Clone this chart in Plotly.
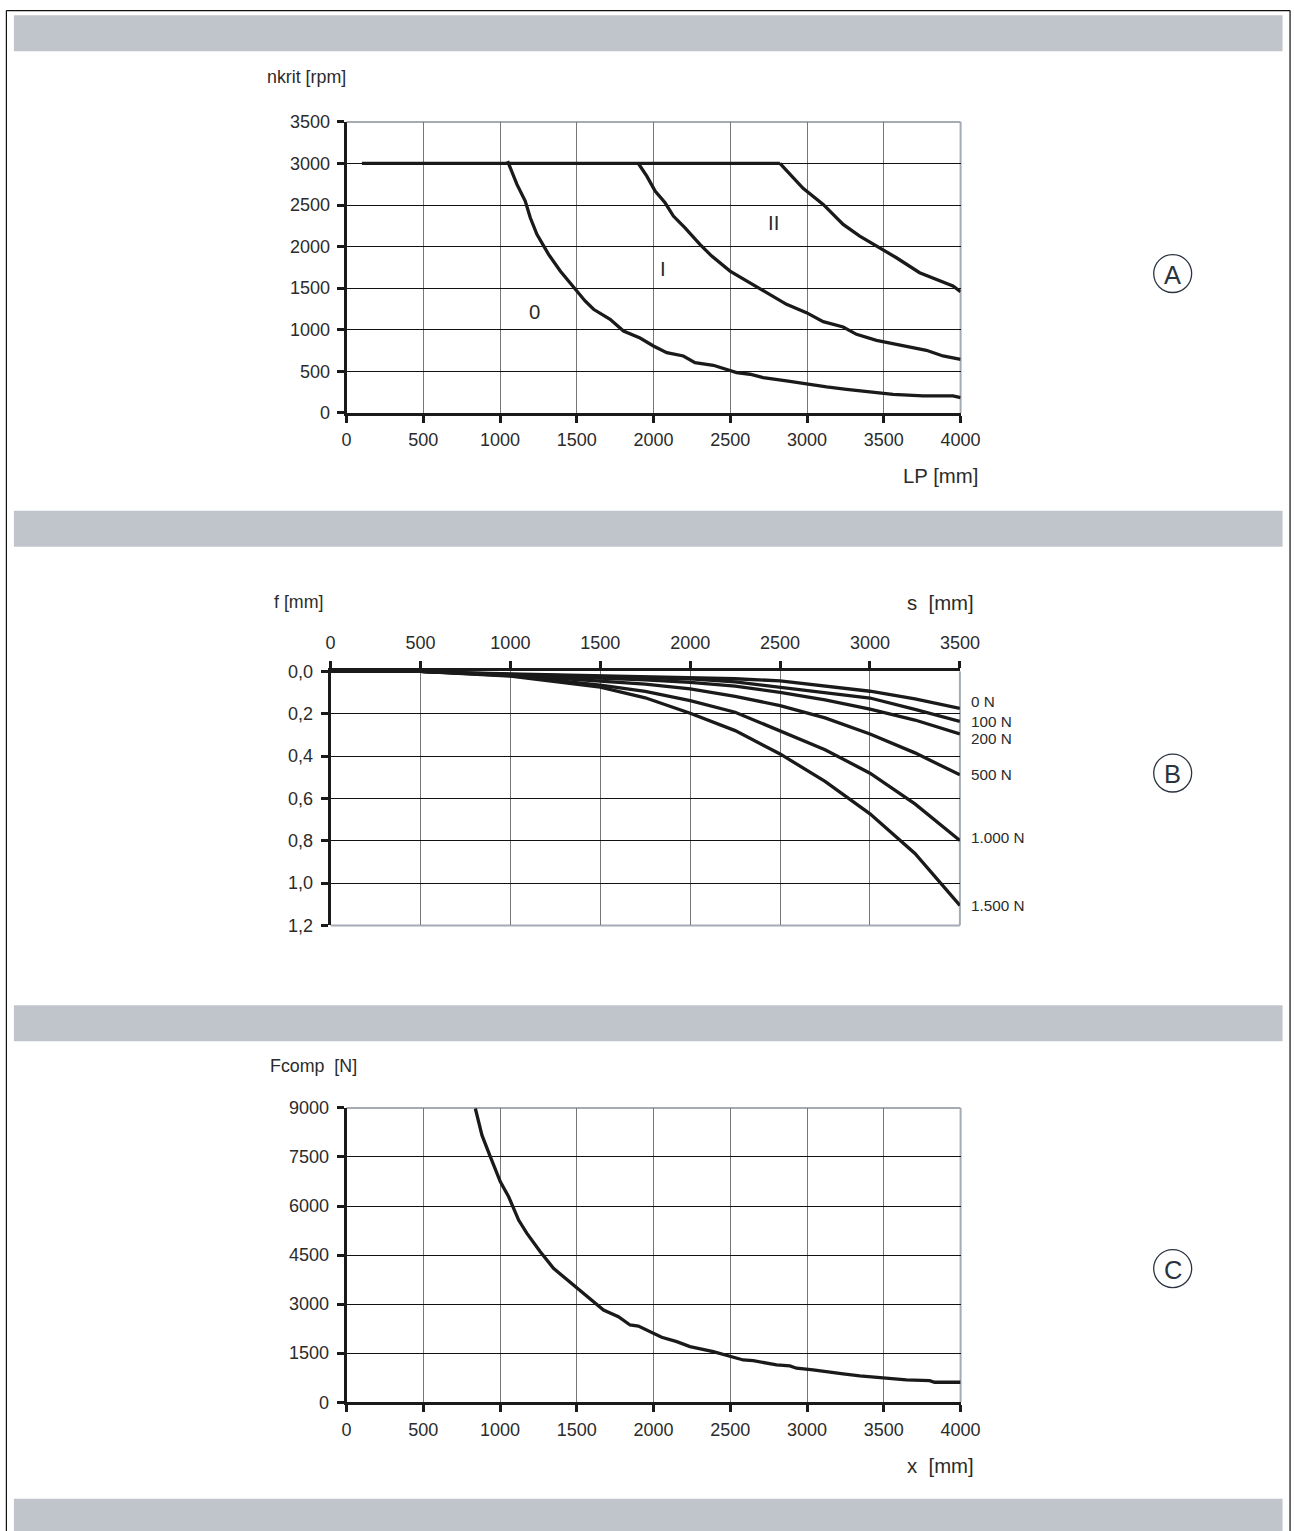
import plotly.graph_objects as go

FONT = "Liberation Sans, Arial, sans-serif"
INK = "#1a1a1a"
TXT = "#2b2b2b"
GRAY_BAND = "#c0c4cb"
BORDER_GRAY = "#a4abb3"

# page-to-picture mapping observed for this renderer: picture = S * figure_px + O
SX, OX = 0.982, 4.1
SY, OY = 0.988, 8.7
FW, FH = 1314, 1541

# ---------------- Chart A: critical speed ----------------
a_flat_x = [100, 2823]
a_flat_y = [3000, 3000]
a0_x = [1049, 1077, 1110, 1164, 1197, 1240, 1316, 1392, 1479, 1554, 1609, 1717, 1804, 1912,
        1999, 2086, 2194, 2270, 2389, 2541, 2628, 2714, 2866, 2996, 3127, 3257, 3430, 3560,
        3755, 3950, 4000]
a0_y = [3028, 2908, 2748, 2547, 2347, 2147, 1907, 1706, 1506, 1346, 1246, 1126, 985, 900,
        805, 725, 685, 604, 573, 484, 465, 424, 384, 344, 312, 284, 252, 224, 204, 204, 184]
a1_x = [1901, 1956, 2010, 2075, 2129, 2205, 2302, 2379, 2498, 2606, 2714, 2866, 2996, 3105,
        3235, 3322, 3452, 3560, 3668, 3777, 3885, 4000]
a1_y = [3000, 2848, 2667, 2527, 2367, 2226, 2027, 1886, 1706, 1586, 1466, 1306, 1206, 1097,
        1033, 945, 873, 833, 785, 753, 685, 645]
a2_x = [2823, 2909, 2974, 3105, 3235, 3343, 3473, 3582, 3733, 3863, 3950, 4000]
a2_y = [3000, 2827, 2700, 2507, 2267, 2127, 1986, 1866, 1686, 1586, 1526, 1457]
a_labels = ["0", "I", "II"]
a_label_x = [1223, 2062, 2784]
a_label_y = [1213, 1730, 2283]

# ---------------- Chart B: deflection ----------------
b_x = [0, 500, 1000, 1500, 1750, 2000, 2250, 2500, 2750, 3000, 3250, 3500]
b_series = {
    "0 N":     [0, 0, 0.012, 0.020, 0.024, 0.028, 0.035, 0.045, 0.068, 0.094, 0.130, 0.175],
    "100 N":   [0, 0, 0.014, 0.025, 0.030, 0.035, 0.050, 0.075, 0.100, 0.126, 0.180, 0.237],
    "200 N":   [0, 0, 0.016, 0.030, 0.040, 0.052, 0.070, 0.099, 0.135, 0.178, 0.230, 0.296],
    "500 N":   [0, 0, 0.018, 0.045, 0.060, 0.083, 0.118, 0.162, 0.220, 0.296, 0.385, 0.489],
    "1.000 N": [0, 0, 0.020, 0.065, 0.095, 0.138, 0.193, 0.280, 0.370, 0.481, 0.626, 0.799],
    "1.500 N": [0, 0, 0.022, 0.075, 0.125, 0.198, 0.280, 0.390, 0.520, 0.673, 0.860, 1.106],
}
b_label_y = [0.141, 0.236, 0.316, 0.489, 0.783, 1.106]
b_yticks = [0, 0.2, 0.4, 0.6, 0.8, 1.0, 1.2]
b_yticktext = ["0,0", "0,2", "0,4", "0,6", "0,8", "1,0", "1,2"]

# ---------------- Chart C: compression force ----------------
c_x = [839, 882, 937, 1002, 1056, 1121, 1175, 1262, 1348, 1478, 1576, 1674, 1771, 1847, 1901,
       2053, 2151, 2237, 2389, 2498, 2584, 2649, 2801, 2888, 2931, 3039, 3127, 3235, 3343,
       3495, 3647, 3798, 3831, 4000]
c_y = [8982, 8167, 7504, 6740, 6282, 5570, 5164, 4601, 4094, 3584, 3177, 2820, 2615, 2362, 2331,
       1986, 1852, 1699, 1546, 1415, 1292, 1271, 1140, 1109, 1039, 987, 926, 865, 804,
       733, 681, 660, 611, 611]


def fx(x):
    return max((x - OX) / SX, 0.6)


def fy(y):
    return max((y - OY) / SY, 0.6)


def px(x):
    return fx(x) / FW


def py(y):
    return 1 - fy(y) / FH


def sz(v):
    return v / SX


fig = go.Figure()
line = dict(color=INK, width=3.3)

for xs, ys in [(a_flat_x, a_flat_y), (a0_x, a0_y), (a1_x, a1_y), (a2_x, a2_y)]:
    fig.add_trace(go.Scatter(x=xs, y=ys, mode="lines", line=line, xaxis="x", yaxis="y",
                             showlegend=False, hoverinfo="skip"))
for name, ys in b_series.items():
    fig.add_trace(go.Scatter(x=b_x, y=ys, mode="lines", line=line, xaxis="x2", yaxis="y2",
                             name=name, showlegend=False, hoverinfo="skip"))
fig.add_trace(go.Scatter(x=c_x, y=c_y, mode="lines", line=line, xaxis="x3", yaxis="y3",
                         showlegend=False, hoverinfo="skip"))

tickfont = dict(family=FONT, size=18, color=TXT)
common_x = dict(showline=True, linecolor=INK, linewidth=3, ticks="outside", ticklen=7,
                tickwidth=3, tickcolor=INK, showgrid=True, gridcolor="#777777", gridwidth=1,
                zeroline=False, tickfont=tickfont, fixedrange=True)
common_y = dict(showline=True, linecolor=INK, linewidth=3, ticks="outside", ticklen=7,
                tickwidth=3, tickcolor=INK, showgrid=True, gridcolor="#111111", gridwidth=1,
                zeroline=False, tickfont=tickfont, fixedrange=True)

fig.update_layout(
    width=FW, height=FH, margin=dict(l=0, r=0, t=0, b=0),
    paper_bgcolor="white", plot_bgcolor="white",
    xaxis=dict(common_x, domain=[px(346), px(960.7)], range=[0, 4000], tickvals=list(range(0, 4001, 500)),
               anchor="y", ticklabelstandoff=1),
    yaxis=dict(common_y, domain=[py(412), py(120.7)], range=[0, 3500], tickvals=list(range(0, 3501, 500)),
               anchor="x", ticklabelstandoff=3),
    xaxis2=dict(common_x, domain=[px(330), px(960)], range=[0, 3500], tickvals=list(range(0, 3501, 500)),
                anchor="y2", side="top", ticklabelstandoff=5),
    yaxis2=dict(common_y, domain=[py(925), py(670.7)], range=[1.2, 0], tickvals=b_yticks,
                ticktext=b_yticktext, anchor="x2", ticklabelstandoff=4),
    xaxis3=dict(common_x, domain=[px(346), px(960.7)], range=[0, 4000], tickvals=list(range(0, 4001, 500)),
                anchor="y3", ticklabelstandoff=2),
    yaxis3=dict(common_y, domain=[py(1402.3), py(1107.7)], range=[0, 9000],
                tickvals=list(range(0, 9001, 1500)), anchor="x3", ticklabelstandoff=4),
)

shapes = []
# gray bands
for y0, y1 in [(14, 50), (510, 546), (1005, 1041), (1499, 1545)]:
    shapes.append(dict(type="rect", xref="paper", yref="paper", x0=px(13), x1=px(1283),
                       y0=py(y1), y1=py(y0), fillcolor=GRAY_BAND, line=dict(width=0), layer="below"))
# outer frame (left, top, right)
for x0, y0, x1, y1 in [(5.5, 5.5, 5.5, 1545), (5.5, 5.5, 1290.5, 5.5), (1290.5, 5.5, 1290.5, 1545)]:
    shapes.append(dict(type="line", xref="paper", yref="paper", x0=px(x0), y0=py(y0), x1=px(x1), y1=py(y1),
                       line=dict(color="#111111", width=1.2)))
# gray plot borders (top/right for A and C, bottom/right for B)
for xa, ya in [("x", "y"), ("x3", "y3")]:
    shapes.append(dict(type="line", xref=f"{xa} domain", yref=f"{ya} domain", x0=0, x1=1, y0=1, y1=1,
                       line=dict(color=BORDER_GRAY, width=2), layer="below"))
    shapes.append(dict(type="line", xref=f"{xa} domain", yref=f"{ya} domain", x0=1, x1=1, y0=0, y1=1,
                       line=dict(color=BORDER_GRAY, width=2), layer="below"))
shapes.append(dict(type="line", xref="x2 domain", yref="y2 domain", x0=0, x1=1, y0=0, y1=0,
                   line=dict(color=BORDER_GRAY, width=2), layer="below"))
shapes.append(dict(type="line", xref="x2 domain", yref="y2 domain", x0=1, x1=1, y0=0, y1=1,
                   line=dict(color=BORDER_GRAY, width=2), layer="below"))
# circled letters
circle_centers = [(1173, 272.5), (1173, 772.5), (1173, 1268.5)]
circle_letters = ["A", "B", "C"]
for cx, cy in circle_centers:
    r = 19
    shapes.append(dict(type="circle", xref="paper", yref="paper", x0=px(cx - r), x1=px(cx + r),
                       y0=py(cy + r), y1=py(cy - r), line=dict(color="#2a3340", width=1.3)))
fig.update_layout(shapes=shapes)

ann = []
for t, (cx, cy) in zip(circle_letters, circle_centers):
    ann.append(dict(text=t, x=px(cx), y=py(cy + 1), xref="paper", yref="paper", showarrow=False,
                    font=dict(family=FONT, size=sz(25), color="#2a3340"), xanchor="center", yanchor="middle"))
# axis titles
titles = [("nkrit [rpm]", 306, 76, 17.5), ("LP [mm]", 941, 475, 20), ("f [mm]", 298, 601, 17.5),
          ("s  [mm]", 941, 602, 20), ("Fcomp  [N]", 313, 1066, 17.5), ("x  [mm]", 941, 1466, 20)]
for t, x, y, s in titles:
    ann.append(dict(text=t, x=px(x), y=py(y), xref="paper", yref="paper", showarrow=False,
                    font=dict(family=FONT, size=sz(s), color=TXT), xanchor="center", yanchor="middle"))
# curve labels in A
for t, x, y in zip(a_labels, a_label_x, a_label_y):
    ann.append(dict(text=t, x=x, y=y, xref="x", yref="y", showarrow=False,
                    font=dict(family=FONT, size=sz(20), color=TXT), xanchor="center", yanchor="middle"))
# load labels in B
for name, y in zip(b_series.keys(), b_label_y):
    ann.append(dict(text=name, x=b_x[-1], y=y, xref="x2", yref="y2", showarrow=False, xshift=9,
                    font=dict(family=FONT, size=sz(15), color=TXT), xanchor="left", yanchor="middle"))
fig.update_layout(annotations=ann)

fig.write_html("out.html")
